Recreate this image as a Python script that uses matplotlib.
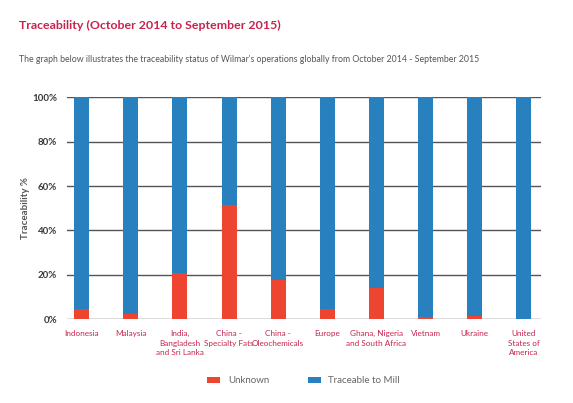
import numpy as np
import matplotlib.pyplot as plt

# data
regions = ['Indonesia', 'Malaysia', 'India,\nBangladesh\nand Sri Lanka', 'China -\nSpecialty Fats',
           'China -\nOleochemicals', 'Europe', 'Ghana, Nigeria\nand South Africa', 'Vietnam',
           'Ukraine', 'United\nStates of\nAmerica']
unknown = [4.6, 2.4, 21.0, 51.4, 17.8, 4.6, 14.2, 1.0, 1.6, 0.0]
traceable = [100 - u for u in unknown]
yticks = [0, 20, 40, 60, 80, 100]

red = '#EE4530'
blue = '#2880BF'
crimson = '#C8234D'

plt.rcParams['font.family'] = ['Lato', 'DejaVu Sans']

fig = plt.figure(figsize=(5.73, 4.03), dpi=100)
ax = fig.add_axes([0.1175, 0.2077, 0.8261, 0.5509])

x = np.arange(len(regions))
w = 0.305
b1 = ax.bar(x, unknown, w, color=red, label='Unknown', zorder=3)
b2 = ax.bar(x, traceable, w, bottom=unknown, color=blue, label='Traceable to Mill', zorder=3)

ax.set_xlim(-0.289, 9.34)
ax.set_ylim(0, 100)
ax.set_yticks(yticks)
ax.set_yticklabels([f'{t}%' for t in yticks], fontsize=7, fontweight='bold', color='#3a3a3a')
ax.yaxis.grid(True, color='#555555', linewidth=1.0, zorder=0)
ax.tick_params(axis='y', length=0, pad=7.5)
ax.tick_params(axis='x', length=0, pad=8)
ax.set_xticks(x)
ax.set_xticklabels(regions, fontsize=5.9, color=crimson, linespacing=1.35, va='top')
for s in ax.spines.values():
    s.set_visible(False)

ax.set_ylabel('Traceability %', fontsize=7, fontweight='bold', color='#555555', labelpad=1.5)

fig.text(0.034, 0.936, 'Traceability (October 2014 to September 2015)', fontsize=8.9,
         fontweight='bold', color=crimson, va='center')
fig.text(0.034, 0.853, "The graph below illustrates the traceability status of Wilmar's operations "
         "globally from October 2014 - September 2015", fontsize=6.3, color='#555555', va='center')

fig.legend(handles=[b1, b2], loc='center', bbox_to_anchor=(0.53, 0.0546), ncol=2, frameon=False,
           fontsize=7, handlelength=1.3, handleheight=0.7, handletextpad=0.8, columnspacing=4.0,
           labelcolor='#666666')

fig.savefig('out.png', dpi=100)
